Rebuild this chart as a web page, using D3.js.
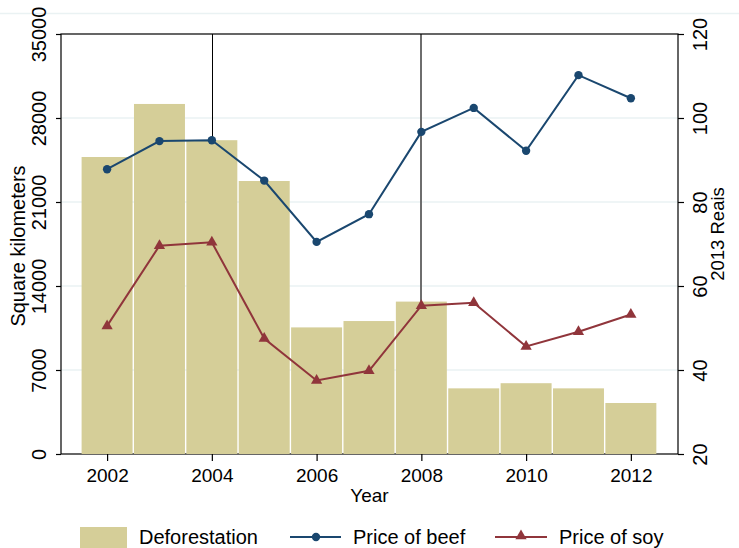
<!DOCTYPE html>
<html>
<head>
<meta charset="utf-8">
<script src="https://cdn.jsdelivr.net/npm/d3@7"></script>
<style>
  body { margin: 0; background: #fff; }
  text { font-family: "Liberation Sans", Arial, sans-serif; fill: #000; }
</style>
</head>
<body>
<script>
// data
var years = [2002, 2003, 2004, 2005, 2006, 2007, 2008, 2009, 2010, 2011, 2012];
var deforestation = [24750, 29170, 26150, 22750, 10550, 11080, 12700, 5470, 5900, 5470, 4250];
var beefPrice = [87.8, 94.5, 94.7, 85.1, 70.5, 77.1, 96.7, 102.4, 92.2, 110.2, 104.7];
var soyPrice = [50.5, 69.6, 70.4, 47.5, 37.5, 39.8, 55.3, 56.0, 45.6, 49.1, 53.2];
var leftTicks = [0, 7000, 14000, 21000, 28000, 35000];
var rightTicks = [20, 40, 60, 80, 100, 120];
var yearTicks = [2002, 2004, 2006, 2008, 2010, 2012];
var markedYears = [2004, 2008];

draw();

function draw() {
    var width = 739,
    height = 548,
    left = 61,
    right = 678,
    top = 34,
    bottom = 454,
    fontSize = 19,
    bigFont = 20;

    var navy = "#1a476f",
    maroon = "#90353b",
    sand = "#d5ce98",
    grid = "#eaf2f3";

    var rows = years.map(function (y, i) {
        return {year: y, area: deforestation[i], beef: beefPrice[i], soy: soyPrice[i]};
    });

    var x = d3.scaleLinear().domain([2001.12, 2012.9]).range([left, right]);
    var yLeft = d3.scaleLinear().domain([0, 35000]).range([bottom, top]);
    var yRight = d3.scaleLinear().domain([20, 120]).range([bottom, top]);

    var svg = d3.select("body")
    .append("svg")
    .attr("width", width)
    .attr("height", height);

    // faint outer line at the top
    svg.append("line")
    .attr("x1", 0).attr("x2", width)
    .attr("y1", 13.5).attr("y2", 13.5)
    .attr("stroke", grid)
    .attr("stroke-width", 1.5);

    // gridlines
    svg.append("g")
    .selectAll("line")
    .data(leftTicks.slice(1, -1))
    .enter()
    .append("line")
    .attr("x1", left).attr("x2", right)
    .attr("y1", function (d) { return yLeft(d); })
    .attr("y2", function (d) { return yLeft(d); })
    .attr("stroke", grid)
    .attr("stroke-width", 1.5);

    // vertical reference lines, behind the bars
    svg.append("g")
    .selectAll("line")
    .data(markedYears)
    .enter()
    .append("line")
    .attr("x1", function (d, i) { return Math.round(x(d)) + (i == 0 ? 0.5 : 0); })
    .attr("x2", function (d, i) { return Math.round(x(d)) + (i == 0 ? 0.5 : 0); })
    .attr("y1", top).attr("y2", bottom)
    .attr("stroke", function (d, i) { return i == 0 ? "#000" : "#6e6e6e"; })
    .attr("stroke-width", function (d, i) { return i == 0 ? 1 : 2; });

    // frame
    svg.append("rect")
    .attr("x", left).attr("y", top)
    .attr("width", right - left).attr("height", bottom - top)
    .attr("fill", "none")
    .attr("stroke", "#000")
    .attr("stroke-width", 1.2);

    // bars
    svg.append("g")
    .selectAll("rect")
    .data(rows)
    .enter()
    .append("rect")
    .attr("x", function (d) { return x(d.year - 0.5) + 0.7; })
    .attr("width", function (d) { return x(d.year + 0.5) - x(d.year - 0.5) - 1.4; })
    .attr("y", function (d) { return yLeft(d.area); })
    .attr("height", function (d) { return yLeft(0) - yLeft(d.area); })
    .attr("fill", sand);

    // axes
    var axisLeft = svg.append("g")
    .attr("transform", "translate(" + left + ",0)")
    .call(d3.axisLeft(yLeft).tickValues(leftTicks).tickSize(5).tickFormat(d3.format("d")));

    var axisRight = svg.append("g")
    .attr("transform", "translate(" + right + ",0)")
    .call(d3.axisRight(yRight).tickValues(rightTicks).tickSize(6).tickFormat(d3.format("d")));

    var axisBottom = svg.append("g")
    .attr("transform", "translate(0," + bottom + ")")
    .call(d3.axisBottom(x).tickValues(yearTicks).tickSize(7).tickFormat(d3.format("d")));

    [axisLeft, axisRight, axisBottom].forEach(function (a) {
        a.select(".domain").remove();
        a.selectAll(".tick line").attr("stroke", "#000").attr("stroke-width", 1.2);
        a.selectAll(".tick text").style("font-size", bigFont + "px")
        .style("font-family", "'Liberation Sans', Arial, sans-serif");
    });
    axisBottom.selectAll(".tick text").style("font-size", fontSize + "px");

    axisLeft.selectAll(".tick text")
    .attr("x", 0).attr("dy", 0)
    .attr("transform", "translate(-22,0) rotate(-90)")
    .attr("text-anchor", "middle")
    .attr("dominant-baseline", "central");

    axisRight.selectAll(".tick text")
    .attr("x", 0).attr("dy", 0)
    .attr("transform", "translate(22,0) rotate(-90)")
    .attr("text-anchor", "middle")
    .attr("dominant-baseline", "central");

    axisBottom.selectAll(".tick text")
    .attr("y", 15).attr("dy", "0.71em");

    // axis titles
    svg.append("text")
    .attr("transform", "translate(18," + ((top + bottom) / 2 + 2) + ") rotate(-90)")
    .attr("text-anchor", "middle")
    .attr("dominant-baseline", "central")
    .style("font-size", bigFont + "px")
    .text("Square kilometers");

    svg.append("text")
    .attr("transform", "translate(717," + ((top + bottom) / 2 - 10) + ") rotate(-90)")
    .attr("text-anchor", "middle")
    .attr("dominant-baseline", "central")
    .style("font-size", "18.5px")
    .text("2013 Reais");

    svg.append("text")
    .attr("x", (left + right) / 2)
    .attr("y", 502)
    .attr("text-anchor", "middle")
    .style("font-size", fontSize + "px")
    .text("Year");

    // lines
    var beefLine = d3.line()
    .x(function (d) { return x(d.year); })
    .y(function (d) { return yRight(d.beef); });

    var soyLine = d3.line()
    .x(function (d) { return x(d.year); })
    .y(function (d) { return yRight(d.soy); });

    svg.append("path")
    .datum(rows)
    .attr("d", beefLine)
    .attr("fill", "none")
    .attr("stroke", navy)
    .attr("stroke-width", 2);

    svg.append("path")
    .datum(rows)
    .attr("d", soyLine)
    .attr("fill", "none")
    .attr("stroke", maroon)
    .attr("stroke-width", 2);

    var circle = d3.symbol().type(d3.symbolCircle).size(55);
    var triangle = d3.symbol().type(d3.symbolTriangle).size(55);

    svg.append("g")
    .selectAll("path")
    .data(rows)
    .enter()
    .append("path")
    .attr("d", circle)
    .attr("transform", function (d) { return "translate(" + x(d.year) + "," + yRight(d.beef) + ")"; })
    .attr("fill", navy);

    svg.append("g")
    .selectAll("path")
    .data(rows)
    .enter()
    .append("path")
    .attr("d", triangle)
    .attr("transform", function (d) { return "translate(" + x(d.year) + "," + yRight(d.soy) + ")"; })
    .attr("fill", maroon);

    // legend
    var legend = svg.append("g");
    var ly = 537;

    legend.append("rect")
    .attr("x", 80).attr("y", 527)
    .attr("width", 47).attr("height", 21)
    .attr("fill", sand);

    legend.append("text")
    .attr("x", 139).attr("y", ly)
    .attr("dominant-baseline", "central")
    .style("font-size", bigFont + "px")
    .text("Deforestation");

    legend.append("line")
    .attr("x1", 290).attr("x2", 341)
    .attr("y1", ly).attr("y2", ly)
    .attr("stroke", navy).attr("stroke-width", 2);

    legend.append("path")
    .attr("d", circle)
    .attr("transform", "translate(316," + ly + ")")
    .attr("fill", navy);

    legend.append("text")
    .attr("x", 353).attr("y", ly)
    .attr("dominant-baseline", "central")
    .style("font-size", bigFont + "px")
    .text("Price of beef");

    legend.append("line")
    .attr("x1", 495).attr("x2", 547)
    .attr("y1", ly).attr("y2", ly)
    .attr("stroke", maroon).attr("stroke-width", 2);

    legend.append("path")
    .attr("d", triangle)
    .attr("transform", "translate(521," + (ly - 1) + ")")
    .attr("fill", maroon);

    legend.append("text")
    .attr("x", 559).attr("y", ly)
    .attr("dominant-baseline", "central")
    .style("font-size", bigFont + "px")
    .text("Price of soy");
}
</script>
</body>
</html>
